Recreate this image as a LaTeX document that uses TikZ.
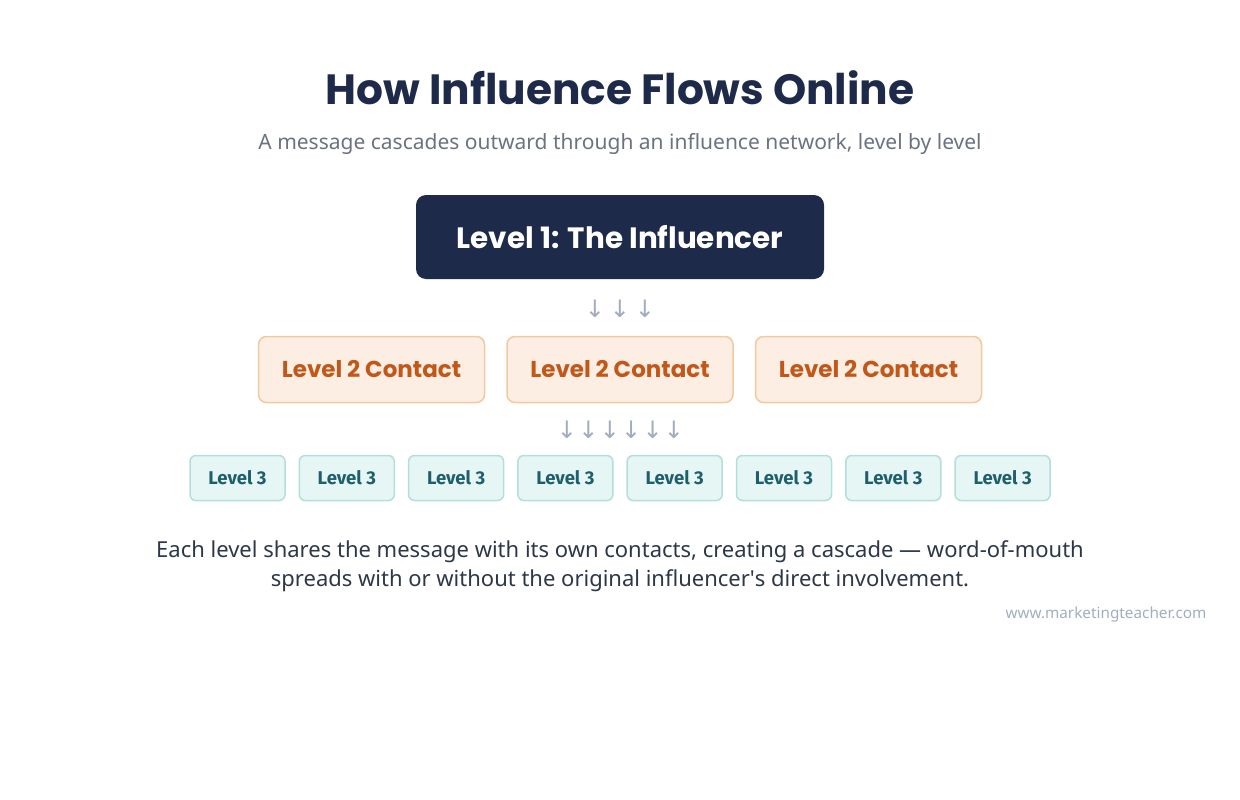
\documentclass[tikz,border=0pt]{standalone}
\usepackage{fontspec}
\setmainfont{Noto Sans}
\newfontfamily\headfont{Poppins}
\newfontfamily\boxfont{Fira Sans}
\newfontfamily\symfont{DejaVu Sans}
\usetikzlibrary{positioning}

\definecolor{navy}{HTML}{1E2A4A}
\definecolor{subgray}{HTML}{6B7280}
\definecolor{arrowgray}{HTML}{A0ACC0}
\definecolor{orangefill}{HTML}{FCEEE2}
\definecolor{orangeline}{HTML}{F2C9A0}
\definecolor{orangetext}{HTML}{C2571A}
\definecolor{tealfill}{HTML}{E6F6F4}
\definecolor{tealline}{HTML}{B2DFDB}
\definecolor{tealtext}{HTML}{1F5F6B}
\definecolor{bodytext}{HTML}{2D3748}
\definecolor{urlgray}{HTML}{A0AEC0}

\begin{document}
\begin{tikzpicture}[x=1pt,y=-1pt,
  lvlone/.style={fill=navy,rounded corners=10pt,minimum width=408pt,minimum height=84pt,
    text=white,font=\headfont\bfseries\fontsize{29.4}{36}\selectfont},
  lvltwo/.style={fill=orangefill,draw=orangeline,line width=1.5pt,rounded corners=8pt,
    minimum width=226pt,minimum height=66pt,text=orangetext,
    font=\headfont\bfseries\fontsize{23}{26}\selectfont},
  lvlthree/.style={fill=tealfill,draw=tealline,line width=1.5pt,rounded corners=6pt,
    minimum width=95pt,minimum height=45pt,text=tealtext,
    font=\boxfont\bfseries\fontsize{18.5}{20}\selectfont},
  flowarrow/.style={text=arrowgray,font=\symfont\fontsize{24}{26}\selectfont,inner sep=0pt}
]
\useasboundingbox (0,0) rectangle (1240,800);

% heading
\node[text=navy,font=\headfont\bfseries\fontsize{42.3}{50}\selectfont] (title) at (620,88) {How Influence Flows Online};
\node[text=subgray,font=\fontsize{21}{24}\selectfont] (subtitle) at (620,143.5) {A message cascades outward through an influence network, level by level};

% level 1
\node[lvlone] (influencer) at (620,237) {Level 1: The Influencer};

% arrows to level 2
\foreach \i in {0,1,2}
  \node[flowarrow] (downA\i) at ({595+25*\i},309) {↓};

% level 2
\foreach \i/\x in {1/371.5,2/620,3/868.5}
  \node[lvltwo] (contact\i) at (\x,369.5) {Level 2 Contact};

% arrows to level 3
\foreach \i in {0,...,5}
  \node[flowarrow] (downB\i) at ({567+21.4*\i},430) {↓};

% level 3
\foreach \i in {1,...,8}
  \node[lvlthree] (reach\i) at ({237.5+109.3*(\i-1)},478) {Level 3};

% note
\node[text=bodytext,align=center,font=\fontsize{22}{29}\selectfont] (note) at (620,566)
  {Each level shares the message with its own contacts, creating a cascade — word-of-mouth\\
   spreads with or without the original influencer\textquotesingle s direct involvement.};
\node[text=urlgray,anchor=east,font=\fontsize{15.3}{18}\selectfont] (url) at (1210,614.5) {www.marketingteacher.com};
\end{tikzpicture}
\end{document}
